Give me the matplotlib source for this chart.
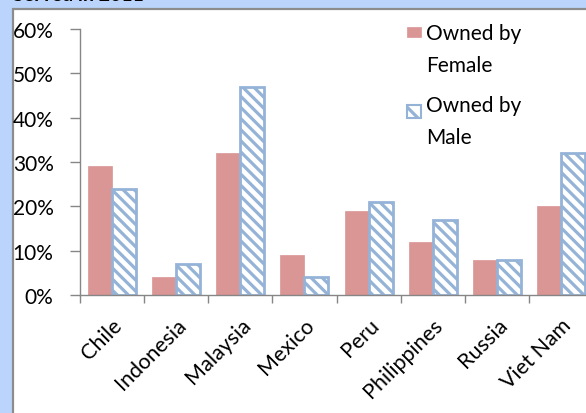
import matplotlib
matplotlib.use("Agg")
import matplotlib.pyplot as plt
from matplotlib.patches import Rectangle
import numpy as np

plt.rcParams['font.family'] = ['Lato', 'DejaVu Sans']
plt.rcParams['hatch.linewidth'] = 2.3

categories = ["Chile", "Indonesia", "Malaysia", "Mexico", "Peru", "Philippines", "Russia", "Viet Nam"]
female = [29, 4, 32, 9, 19, 12, 8, 20]
male = [24, 7, 47, 4, 21, 17, 8, 32]
series_names = ["Owned by\nFemale", "Owned by\nMale"]
yticks = [0, 10, 20, 30, 40, 50, 60]
title = "Served in 2011"

W, H = 586, 414
fig = plt.figure(figsize=(W / 100, H / 100), dpi=100)
fig.patch.set_facecolor('#BAD4FB')

# chart area (white panel with gray border)
panel = Rectangle((13 / W, -0.1), 1.2, 1.1 - 10 / H, transform=fig.transFigure,
                  facecolor='white', edgecolor='#8C8C8C', linewidth=1.6, zorder=0)
fig.add_artist(panel)

fig.text(13 / W, 1 - 1 / H, title, fontsize=14, fontweight='bold', color='black',
         va='baseline', ha='left')

red = '#D99694'
blue = '#95B3D7'

ax = fig.add_axes([80 / W, 1 - 296 / H, 513 / W, (296 - 30) / H])
ax.set_facecolor('none')
x = np.arange(len(categories))
bw = 0.375
ax.bar(x - bw / 2, female, bw, color=red, edgecolor=red, linewidth=0.5, zorder=2)
ax.bar(x + bw / 2, male, bw, facecolor='white', edgecolor=blue, hatch='\\\\\\',
       linewidth=2.0, zorder=2)

ax.set_xlim(-0.5, len(categories) - 0.5)
ax.set_ylim(0, 60)
ax.set_yticks(yticks)
ax.set_yticklabels([f"{v}%" for v in yticks])
ax.set_xticks(np.arange(len(categories) + 1) - 0.5)
ax.set_xticklabels([])
ax.set_xticks(x, minor=True)
ax.set_xticklabels(categories, minor=True, rotation=45, ha='right', rotation_mode='anchor')
ax.tick_params(axis='x', which='minor', length=0, pad=14, labelsize=15.5, labelcolor='black')
ax.tick_params(axis='x', which='major', length=6, color='#868686', width=1)
ax.tick_params(axis='y', length=7, color='#868686', width=1, labelsize=15, pad=12, labelcolor='black')
for s in ['top', 'right']:
    ax.spines[s].set_visible(False)
for s in ['left', 'bottom']:
    ax.spines[s].set_color('#868686')
    ax.spines[s].set_linewidth(1)

# legend
leg_items = [(28, 38, 24, dict(facecolor=red, edgecolor=red, linewidth=0.5)),
             (106, 119, 96, dict(facecolor='white', edgecolor=blue, hatch='\\\\', linewidth=1.5))]
for (y0, y1, ty, style), name in zip(leg_items, series_names):
    r = Rectangle((407 / W, 1 - y1 / H), 14 / W, (y1 - y0) / H,
                  transform=fig.transFigure, **style)
    fig.add_artist(r)
    fig.text(426 / W, 1 - ty / H, name, fontsize=15, va='top', ha='left',
             linespacing=1.75, color='black')

fig.savefig("out.png", dpi=100, facecolor=fig.get_facecolor())
